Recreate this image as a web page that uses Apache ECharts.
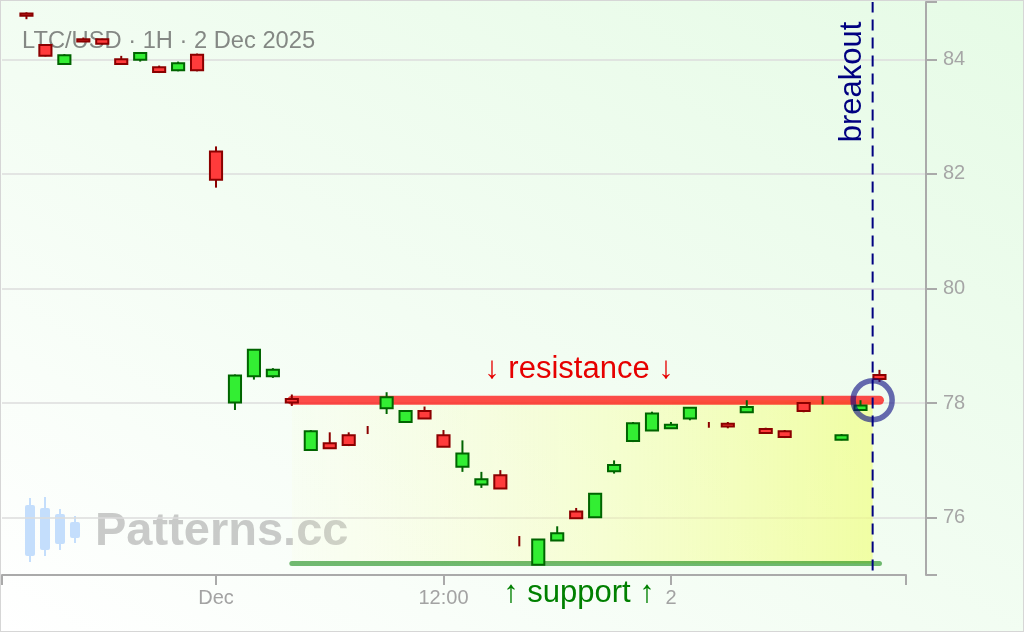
<!DOCTYPE html>
<html>
<head>
<meta charset="utf-8">
<script src="https://cdn.jsdelivr.net/npm/echarts@6/dist/echarts.min.js"></script>
<style>
html,body{margin:0;padding:0;background:#fff;}
#chart{width:1024px;height:632px;background:linear-gradient(to top right,#ffffff 0%,#f3fdf3 45%,#e6fbe6 100%);}
</style>
</head>
<body>
<div id="chart"></div>
<script>
// ---- data ----
const times = [
  '2025-11-30 14:00','2025-11-30 15:00','2025-11-30 16:00','2025-11-30 17:00','2025-11-30 18:00',
  '2025-11-30 19:00','2025-11-30 20:00','2025-11-30 21:00','2025-11-30 22:00','2025-11-30 23:00',
  '2025-12-01 00:00','2025-12-01 01:00','2025-12-01 02:00','2025-12-01 03:00','2025-12-01 04:00',
  '2025-12-01 05:00','2025-12-01 06:00','2025-12-01 07:00','2025-12-01 08:00','2025-12-01 09:00',
  '2025-12-01 10:00','2025-12-01 11:00','2025-12-01 12:00','2025-12-01 13:00','2025-12-01 14:00',
  '2025-12-01 15:00','2025-12-01 16:00','2025-12-01 17:00','2025-12-01 18:00','2025-12-01 19:00',
  '2025-12-01 20:00','2025-12-01 21:00','2025-12-01 22:00','2025-12-01 23:00','2025-12-02 00:00',
  '2025-12-02 01:00','2025-12-02 02:00','2025-12-02 03:00','2025-12-02 04:00','2025-12-02 05:00',
  '2025-12-02 06:00','2025-12-02 07:00','2025-12-02 08:00','2025-12-02 09:00','2025-12-02 10:00',
  '2025-12-02 11:00'
];
const open  = [84.80,84.25,83.92,84.35,84.35,84.00,83.99,83.86,83.81,84.08,
               82.39,78.01,78.47,78.47,78.07,77.18,77.30,77.44,77.535,77.91,
               77.67,77.86,77.44,76.89,76.58,76.74,75.595,75.18,75.60,76.11,
               76.01,76.81,77.34,77.52,77.56,77.73,77.625,77.64,77.84,77.55,
               77.51,78.00,78.045,77.36,77.88,78.49];
const close = [84.76,84.06,84.07,84.31,84.27,83.92,84.11,83.78,83.93,83.81,
               81.90,78.48,78.93,78.58,78.01,77.51,77.21,77.27,77.53,78.10,
               77.86,77.73,77.24,77.12,76.67,76.51,75.59,75.62,75.73,75.99,
               76.42,76.92,77.65,77.82,77.62,77.92,77.62,77.59,77.93,77.48,
               77.41,77.86,78.05,77.44,77.96,78.42];
const high  = [84.82,84.26,84.09,84.38,84.36,84.06,84.11,83.89,83.96,84.10,
               82.48,78.50,78.93,78.61,78.15,77.53,77.49,77.49,77.60,78.19,
               77.88,77.94,77.53,77.35,76.80,76.83,75.68,75.62,75.85,76.17,
               76.42,77.00,77.67,77.85,77.67,77.92,77.67,77.67,78.05,77.57,
               77.53,78.00,78.12,77.46,78.05,78.58];
const low   = [84.70,84.05,83.91,84.30,84.26,83.91,83.96,83.76,83.79,83.79,
               81.76,77.88,78.41,78.44,77.95,77.18,77.20,77.25,77.46,77.81,
               77.66,77.73,77.24,76.80,76.52,76.51,75.50,75.18,75.60,75.99,
               76.01,76.77,77.32,77.52,77.56,77.70,77.57,77.56,77.84,77.47,
               77.39,77.84,77.98,77.35,77.88,78.37];

const xTickTimes  = ['2025-12-01 00:00','2025-12-01 12:00','2025-12-02 00:00'];
const xTickLabels = ['Dec','12:00','2'];
const yTickValues = [76,78,80,82,84];

const resistanceLevel = 78.05;
const supportLevel = 75.2;
const levelStartTime = '2025-12-01 04:00';
const levelEndTime = '2025-12-02 11:00';
const breakoutPos = 44.64;          // hours after first candle (Dec 2 ~10:38)
const xRange = [-1.29, 46.4];       // axis extent, in hours after first candle
const xRangeWide = [-1.29, 47.45];  // extent of the wider value-grid
const yRange = [75, 85];

// ---- build ----
const FONT = 'Liberation Sans';
const idx = t => times.indexOf(t);
const tickIdx = xTickTimes.map(idx);
const candleData = times.map((t, i) => [i, open[i], close[i], low[i], high[i]]);

const chart = echarts.init(document.getElementById('chart'), null, {renderer: 'canvas'});

function renderCandle(params, api) {
  const i = api.value(0), o = api.value(1), c = api.value(2), l = api.value(3), h = api.value(4);
  const up = c > o;
  const fill = up ? '#33ee33' : '#ff3b3b';
  const stroke = up ? '#006400' : '#8b0000';
  const pH = api.coord([i, h]);
  const pL = api.coord([i, l]);
  const yO = api.coord([i, o])[1];
  const yC = api.coord([i, c])[1];
  const x = pH[0];
  const halfW = api.size([1, 0])[0] * 0.32;
  const children = [{
    type: 'line',
    shape: {x1: x, y1: pH[1], x2: x, y2: pL[1]},
    style: {stroke: stroke, lineWidth: 2}
  }];
  if (Math.abs(yO - yC) >= 1) {
    children.push({
      type: 'rect',
      shape: {x: x - halfW, y: Math.min(yO, yC), width: 2 * halfW, height: Math.abs(yO - yC)},
      style: {fill: fill, stroke: stroke, lineWidth: 2}
    });
  }
  return {type: 'group', children: children};
}

const watermarkCandles = [
  {x: 30, wt: 498, wb: 562, bt: 505, bb: 556},
  {x: 45, wt: 497, wb: 556, bt: 508, bb: 550},
  {x: 60, wt: 509, wb: 550, bt: 514, bb: 544},
  {x: 75, wt: 516, wb: 543, bt: 522, bb: 538}
];
const wmGraphics = [];
watermarkCandles.forEach(c => {
  wmGraphics.push({type: 'line', shape: {x1: c.x, y1: c.wt, x2: c.x, y2: c.wb}, style: {stroke: '#c4defc', lineWidth: 2}});
  wmGraphics.push({type: 'rect', shape: {x: c.x - 5, y: c.bt, width: 10, height: c.bb - c.bt, r: 2}, style: {fill: '#c4defc'}});
});

const option = {
  animation: false,
  backgroundColor: 'transparent',
  grid: [
    {left: 2, right: 118, top: 2, bottom: 57, outerBoundsMode: 'none'},
    {left: 2, right: 98, top: 2, bottom: 57, outerBoundsMode: 'none'}
  ],
  xAxis: [
    {
      gridIndex: 0, type: 'value', min: xRange[0], max: xRange[1],
      axisLine: {show: true, onZero: false, lineStyle: {color: '#aaaaaa', width: 2}},
      axisTick: {show: true, length: 10, customValues: [xRange[0]].concat(tickIdx, [xRange[1]]),
                 lineStyle: {color: '#aaaaaa', width: 2}},
      axisLabel: {
        customValues: tickIdx,
        formatter: v => { const k = tickIdx.findIndex(t => Math.abs(t - v) < 1e-6); return k >= 0 ? xTickLabels[k] : ''; },
        color: '#a3a3a3', fontSize: 20, fontFamily: FONT, margin: 13
      },
      splitLine: {show: false}
    },
    {gridIndex: 1, type: 'value', min: xRangeWide[0], max: xRangeWide[1], show: false, axisLine: {onZero: false}}
  ],
  yAxis: [
    {gridIndex: 0, type: 'value', min: yRange[0], max: yRange[1], show: false, axisLine: {onZero: false}, splitLine: {show: false}},
    {
      gridIndex: 1, type: 'value', position: 'right', min: yRange[0], max: yRange[1],
      axisLine: {show: true, onZero: false, lineStyle: {color: '#aaaaaa', width: 2}},
      axisTick: {show: true, length: 11, customValues: [yRange[0]].concat(yTickValues, [yRange[1]]),
                 lineStyle: {color: '#aaaaaa', width: 2}},
      axisLabel: {customValues: yTickValues, color: '#a6a6a6', fontSize: 20, fontFamily: FONT, margin: 17},
      splitLine: {show: true, showMinLine: false, showMaxLine: false, lineStyle: {color: '#dcdcdc', width: 1.5}}
    }
  ],
  series: [
    {
      type: 'line', name: 'support', xAxisIndex: 0, yAxisIndex: 0, silent: true, z: 2,
      symbol: 'none',
      data: [[idx(levelStartTime), supportLevel], [idx(levelEndTime), supportLevel]],
      lineStyle: {color: 'rgba(0,128,0,0.55)', width: 5, cap: 'round'},
      markArea: {
        silent: true,
        itemStyle: {
          color: new echarts.graphic.LinearGradient(0, 0, 1, 0, [
            {offset: 0, color: 'rgba(255,255,190,0.08)'},
            {offset: 1, color: 'rgba(240,255,120,0.64)'}
          ])
        },
        data: [[{coord: [idx(levelStartTime), supportLevel]}, {coord: [breakoutPos, resistanceLevel]}]]
      }
    },
    {
      type: 'line', name: 'resistance', xAxisIndex: 0, yAxisIndex: 0, silent: true, z: 3,
      symbol: 'none',
      data: [[idx(levelStartTime), resistanceLevel], [idx(levelEndTime), resistanceLevel]],
      lineStyle: {color: 'rgba(255,0,0,0.7)', width: 9, cap: 'round'}
    },
    {
      type: 'custom', name: 'LTC/USD', xAxisIndex: 0, yAxisIndex: 0, z: 5, silent: true,
      renderItem: renderCandle,
      encode: {x: 0, y: [1, 2, 3, 4]},
      data: candleData
    },
    {
      type: 'scatter', xAxisIndex: 0, yAxisIndex: 0, z: 6, silent: true,
      symbol: 'circle', symbolSize: 39,
      itemStyle: {color: 'rgba(0,0,0,0)', borderColor: 'rgba(10,10,130,0.76)', borderWidth: 5.5},
      data: [[breakoutPos, resistanceLevel]]
    },
    {
      type: 'line', name: 'breakout', xAxisIndex: 0, yAxisIndex: 0, z: 7, silent: true,
      symbol: 'none',
      data: [[breakoutPos, yRange[0] + 0.08], [breakoutPos, yRange[1]]],
      lineStyle: {color: '#000080', width: 2, type: [11, 7]}
    }
  ],
  graphic: [
    {type: 'rect', z: -10, shape: {x: 0, y: 0, width: 1024, height: 632}, style: {fill: 'none', stroke: '#d6d6d6', lineWidth: 2}},
    {type: 'group', z: -5, children: wmGraphics},
    {type: 'text', z: -4, x: 95, y: 532, style: {text: 'Patterns.cc', font: 'bold 47px "Liberation Sans"', fill: 'rgba(140,140,140,0.45)', align: 'left', verticalAlign: 'middle'}},
    {type: 'text', z: -4, x: 22, y: 41, style: {text: 'LTC/USD · 1H · 2 Dec 2025', font: '23.7px "Liberation Sans"', fill: '#848884', align: 'left', verticalAlign: 'middle'}},
    {type: 'text', z: 50, x: 579, y: 369, style: {text: '↓ resistance ↓', font: '31px "Liberation Sans"', fill: '#e60000', align: 'center', verticalAlign: 'middle'}},
    {type: 'text', z: 50, x: 579, y: 593, style: {text: '↑ support ↑', font: '31px "Liberation Sans"', fill: '#008000', align: 'center', verticalAlign: 'middle'}},
    {type: 'text', z: 50, x: 852, y: 82, rotation: Math.PI / 2, style: {text: 'breakout', font: '31px "Liberation Sans"', fill: '#000080', align: 'center', verticalAlign: 'middle'}}
  ]
};
chart.setOption(option);
</script>
</body>
</html>
